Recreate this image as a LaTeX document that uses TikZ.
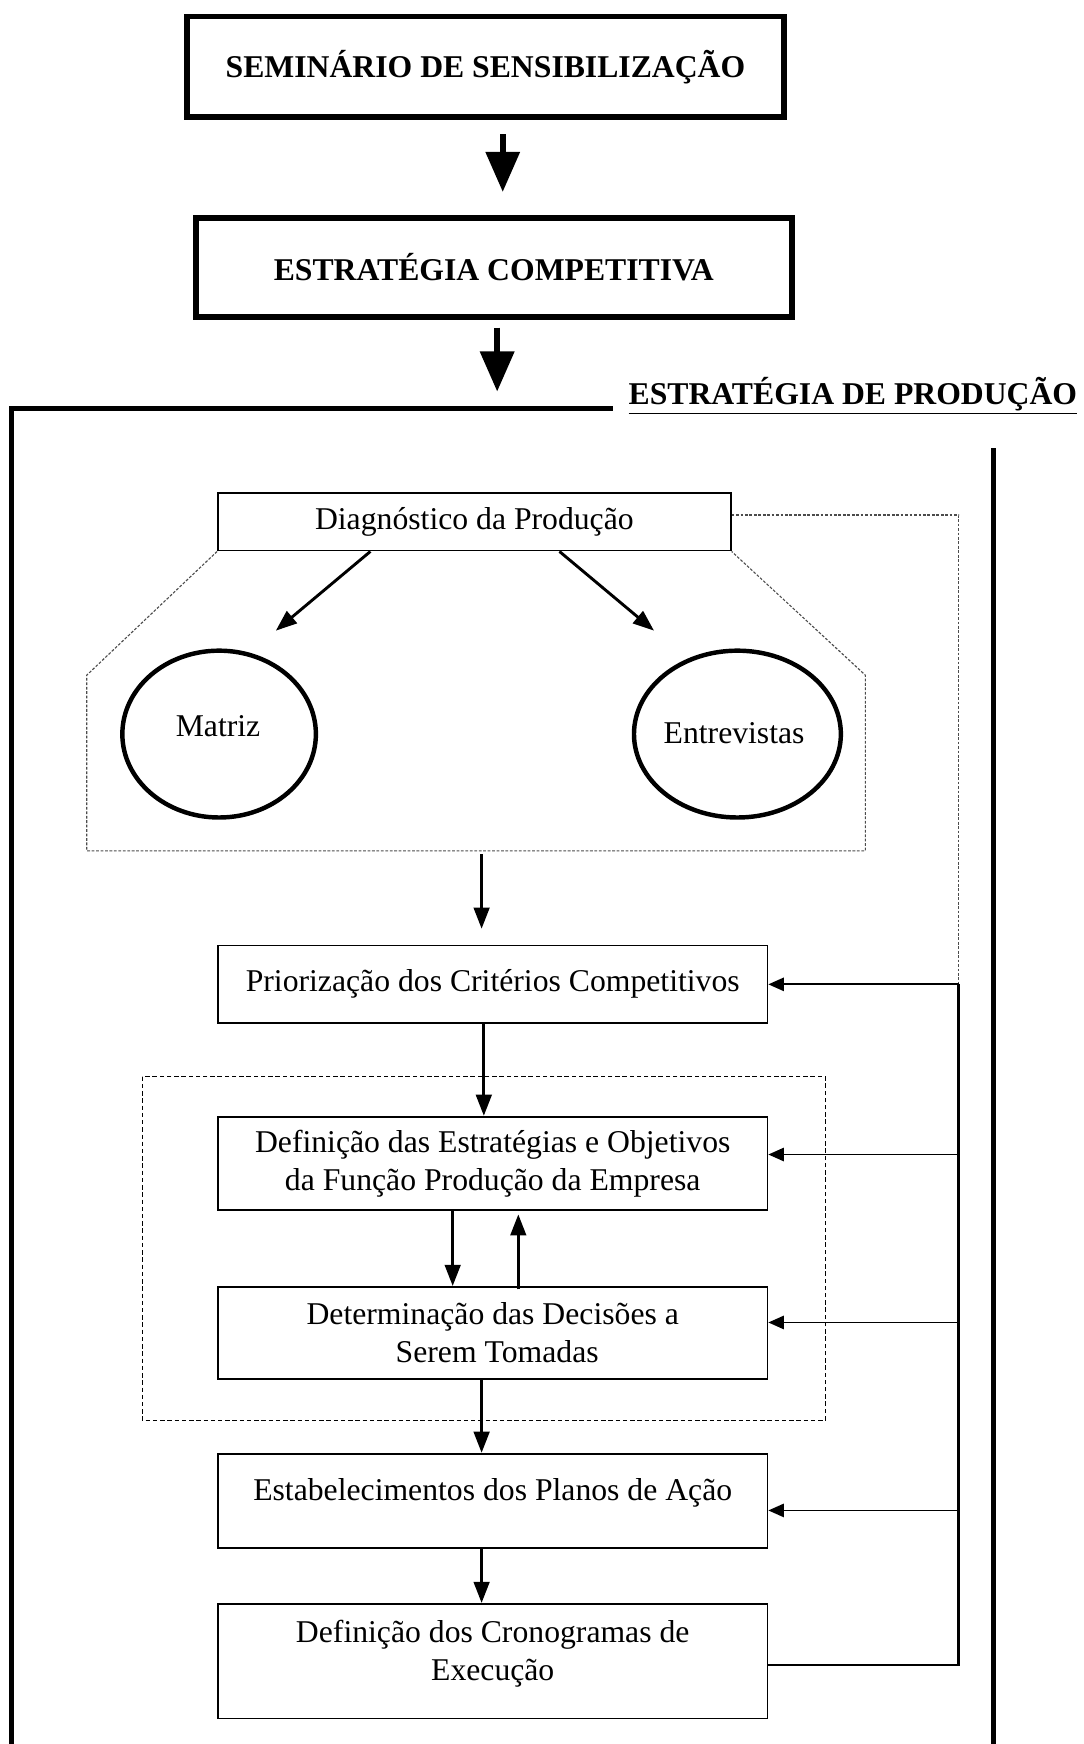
\documentclass[tikz,border=0pt]{standalone}
\usepackage{fontspec}
\setmainfont{Liberation Serif}
\usetikzlibrary{arrows.meta,shapes.geometric}
\begin{document}
\begin{tikzpicture}[x=1pt,y=-1pt,
  font=\fontsize{28.5}{34}\selectfont,
  heavybox/.style={draw,line width=5pt,inner sep=0pt,font=\fontsize{28.5}{34}\selectfont\bfseries},
  stepbox/.style={draw,line width=1.6pt,inner sep=0pt,align=center,minimum width=494pt},
  oval/.style={draw,ellipse,line width=4pt,inner sep=0pt},
  bigarrow/.style={line width=5pt,-{Triangle[length=36pt,width=30pt]}},
  flowarrow/.style={line width=2.6pt,-{Triangle[length=19pt,width=14pt]}},
  fbarrow/.style={line width=1.6pt,-{Triangle[length=14pt,width=12pt]}},
  dotline/.style={draw=black!70,line width=1pt,densely dashed,dash pattern=on 2.5pt off 1.5pt},
  frame/.style={line width=4.5pt}]
\useasboundingbox (0,0) rectangle (974,1568);

% top stages
\node[heavybox,minimum width=537pt,minimum height=90pt] (sem) at (436.5,60) {SEMINÁRIO DE SENSIBILIZAÇÃO};
\node[heavybox,minimum width=536pt,minimum height=89pt] (comp) at (444,240.5) {ESTRATÉGIA COMPETITIVA};
\draw[bigarrow] ([xshift=15.5pt,yshift=-13pt]sem.south) -- ([xshift=8pt,yshift=21pt]comp.north);
\coordinate (a2end) at (447,352);
\draw[bigarrow] ([xshift=3pt,yshift=-7pt]comp.south) -- (a2end);

% production strategy frame
\coordinate (ftl) at (10,367);
\coordinate (ftr) at (551,367);
\coordinate (fbl) at (10,1572);
\coordinate (frt) at (893,403);
\coordinate (frb) at (893,1572);
\draw[frame] (ftr) -- (ftl) -- (fbl);
\draw[frame] (frt) -- (frb);
\node[anchor=base west,inner sep=0pt,font=\fontsize{28.5}{34}\selectfont\bfseries] (prodlbl) at (565,364) {\underline{ESTRATÉGIA DE PRODUÇÃO}};

% diagnosis
\node[stepbox,minimum width=461pt,minimum height=52pt] (diag) at (426.5,469) {Diagnóstico da Produção};
\node[oval,minimum width=174pt,minimum height=150pt] (matriz) at (197,660) {};
\node (matrizt) at (196,653) {Matriz};
\node[oval,minimum width=186pt,minimum height=150pt] (entr) at (663,660) {};
\node (entrt) at (660,659) {Entrevistas};
\coordinate (mtip) at (248,567);
\coordinate (etip) at (588,567);
\draw[flowarrow] ([xshift=-93.5pt]diag.south) -- (mtip);
\draw[flowarrow] ([xshift=76.5pt]diag.south) -- (etip);

% dotted outline around the diagnosis tools
\coordinate (ol1) at (78,607);
\coordinate (ol2) at (78,765);
\coordinate (ol3) at (778,765);
\coordinate (ol4) at (778,607);
\draw[dotline] (diag.south west) -- (ol1) -- (ol2) -- (ol3) -- (ol4) -- (diag.south east);
\coordinate (dr1) at (862,463);
\coordinate (fbtop) at (862,885);
\draw[dotline] ([yshift=6pt]diag.east) -- (dr1) -- (fbtop);

% production steps
\node[stepbox,minimum height=70pt] (prio) at (443,885) {Priorização dos Critérios Competitivos};
\node[stepbox,minimum height=84pt] (def) at (443,1046) {Definição das Estratégias e Objetivos\\da Função Produção da Empresa};
\node[stepbox,minimum height=83pt] (det) at (443,1198.5) {Determinação das Decisões a\\\hspace*{8pt}Serem Tomadas};
\node[stepbox,minimum height=85pt] (est) at (443,1349.5) {};
\node (estt) at (443,1342) {Estabelecimentos dos Planos de Ação};
\node[stepbox,minimum height=103pt] (cron) at (443,1493.5) {};
\node[align=center] (cront) at (443,1487) {Definição dos Cronogramas de\\Execução};

% dashed group around strategy definition and decisions
\draw[line width=1.2pt,dash pattern=on 4pt off 2.5pt] (128,968) rectangle (742,1277);

% flow arrows
\coordinate (ob) at (433,768);
\coordinate (pin) at (433,835);
\draw[flowarrow] (ob) -- (pin);
\draw[flowarrow] ([xshift=-8pt]prio.south) -- ([xshift=-8pt]def.north);
\draw[flowarrow] ([xshift=-36pt]def.south) -- ([xshift=-36pt]det.north);
\draw[flowarrow] ([xshift=23pt,yshift=-3pt]det.north) -- ([xshift=23pt,yshift=-3pt]def.south);
\draw[flowarrow] ([xshift=-10pt]det.south) -- ([xshift=-10pt]est.north);
\draw[flowarrow] ([xshift=-10pt]est.south) -- ([xshift=-10pt]cron.north);

% feedback line
\coordinate (fbbot) at (862,1497);
\coordinate (fb2) at (862,1038);
\coordinate (fb3) at (862,1189);
\coordinate (fb4) at (862,1358);
\draw[line width=2.6pt] (cron.east |- fbbot) -- (fbbot) -- (fbtop);
\draw[fbarrow] (fbtop) -- (prio.east |- fbtop);
\draw[fbarrow] (fb2) -- (def.east |- fb2);
\draw[fbarrow] (fb3) -- (det.east |- fb3);
\draw[fbarrow] (fb4) -- (est.east |- fb4);
\end{tikzpicture}
\end{document}
